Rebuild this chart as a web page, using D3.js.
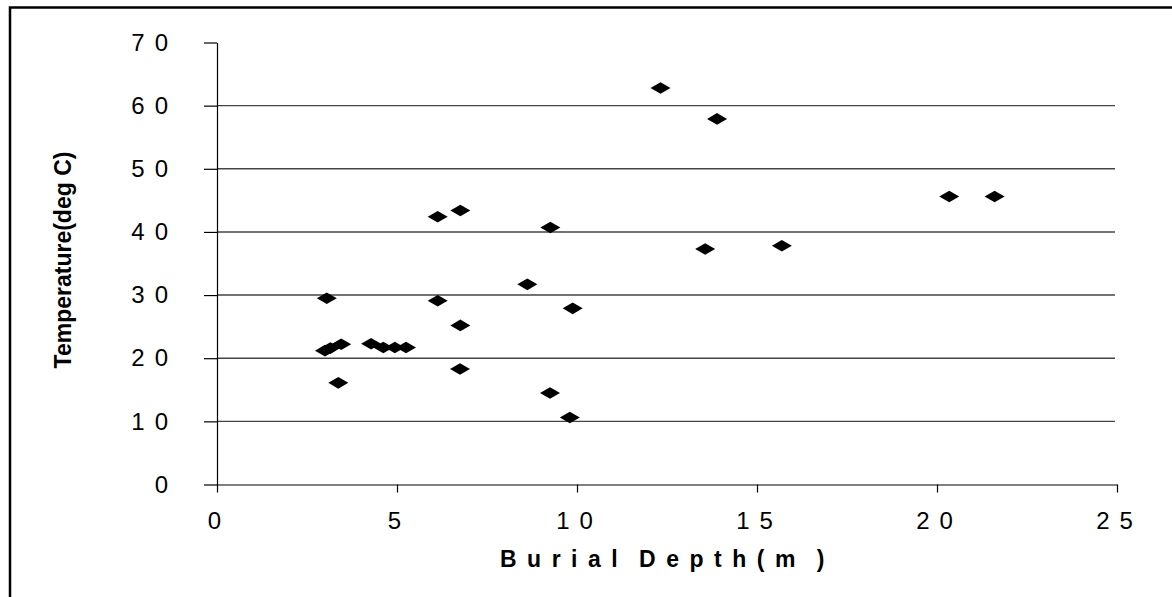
<!DOCTYPE html>
<html>
<head>
<meta charset="utf-8">
<script src="https://cdn.jsdelivr.net/npm/d3@7"></script>
<style>
  body { margin: 0; background: #fff; }
  svg { display: block; font-family: "Liberation Sans", Arial, sans-serif; }
</style>
</head>
<body>
<div id="chart"></div>
<script>
// values: burial depth (m) and temperature (deg C)
var depth = [3.05, 3.0, 3.15, 3.45, 3.37, 4.28, 4.62, 4.94, 5.25,
             6.13, 6.76, 6.13, 6.76, 6.75, 8.62, 9.26, 9.25, 9.88, 9.80,
             12.32, 13.89, 13.56, 15.69, 20.34, 21.6];
var temperature = [29.5, 21.2, 21.6, 22.2, 16.1, 22.3, 21.7, 21.7, 21.7,
                   42.4, 43.4, 29.1, 25.2, 18.3, 31.7, 40.7, 14.5, 27.9, 10.6,
                   62.8, 57.9, 37.3, 37.8, 45.6, 45.6];
var xTicks = [0, 5, 10, 15, 20, 25];
var yTicks = [0, 10, 20, 30, 40, 50, 60, 70];
var gridTicks = [10, 20, 30, 40, 50, 60];

var points = depth.map(function(d, i) { return {x: d, y: temperature[i]}; });

// set the dimensions and margins of the graph
var margin = {top: 42.5, left: 217},
    width = 900,
    height = 442;

var root = d3.select("#chart")
  .append("svg")
    .attr("width", 1172)
    .attr("height", 597);

// outer frame, runs off the right and bottom edges
root.append("rect")
  .attr("x", 10)
  .attr("y", 7.5)
  .attr("width", 1200)
  .attr("height", 700)
  .attr("fill", "none")
  .attr("stroke", "#000")
  .attr("stroke-width", 2.5);

var svg = root.append("g")
  .attr("transform", "translate(" + margin.left + "," + margin.top + ")");

var x = d3.scaleLinear().domain([0, 25]).range([0, width]);
var y = d3.scaleLinear().domain([0, 70]).range([height, 0]);

// gridlines
svg.append("g")
  .selectAll("line")
  .data(gridTicks)
  .enter()
  .append("line")
    .attr("x1", 0)
    .attr("x2", x(25) - 2)
    .attr("y1", function(d) { return y(d); })
    .attr("y2", function(d) { return y(d); })
    .attr("stroke", "#444")
    .attr("stroke-width", 1.4);

// Y axis
var yAxis = svg.append("g")
  .call(d3.axisLeft(y).tickValues(yTicks).tickSize(13).tickSizeOuter(0).tickPadding(26));

// X axis
var xAxis = svg.append("g")
  .attr("transform", "translate(0," + height + ")")
  .call(d3.axisBottom(x).tickValues(xTicks).tickSize(8).tickSizeOuter(0).tickPadding(19));

[yAxis, xAxis].forEach(function(a) {
  a.attr("font-size", null);
  a.select(".domain").attr("stroke", "#000").attr("stroke-width", 1.2);
  a.selectAll(".tick line").attr("stroke", "#000").attr("stroke-width", 1.2);
  a.selectAll(".tick text")
    .attr("fill", "#000")
    .attr("font-size", 24)
    .style("letter-spacing", "10px")
    .style("font-family", "'Liberation Sans', Arial, sans-serif");
});
xAxis.selectAll(".tick text").attr("dx", 2);

// diamonds
svg.append("g")
  .selectAll("path")
  .data(points)
  .enter()
  .append("path")
    .attr("transform", function(d) { return "translate(" + x(d.x) + "," + y(d.y) + ")"; })
    .attr("d", "M-10,0L0,-5.8L10,0L0,5.8Z")
    .attr("fill", "#000");

// axis titles
root.append("text")
  .attr("x", 500)
  .attr("y", 567)
  .attr("font-size", 23)
  .attr("font-weight", "bold")
  .style("letter-spacing", "10.5px")
  .style("word-spacing", "-6px")
  .text("Burial Depth(m )");

root.append("text")
  .attr("transform", "translate(71,260) rotate(-90)")
  .attr("text-anchor", "middle")
  .attr("font-size", 23)
  .attr("font-weight", "bold")
  .text("Temperature(deg C)");
</script>
</body>
</html>
